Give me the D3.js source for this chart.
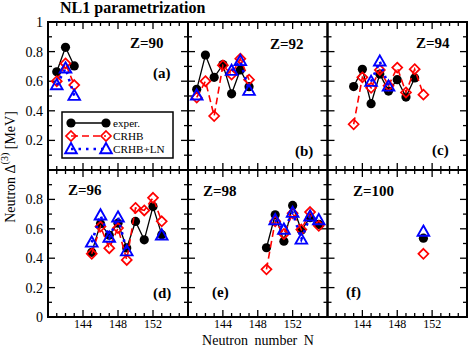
<!DOCTYPE html>
<html><head><meta charset="utf-8">
<script src="https://cdn.jsdelivr.net/npm/d3@7"></script>
<style>body{margin:0;background:#fff}svg{display:block}text{font-family:"Liberation Serif","Times New Roman",serif}</style>
</head><body>
<script>
const panelNames = ["Z=90","Z=92","Z=94","Z=96","Z=98","Z=100"];
const panelTags = ["(a)","(b)","(c)","(d)","(e)","(f)"];
const neutrons = [
  [141,142,143],
  [141,142,143,144,145,146,147],
  [143,144,145,146,147,148,149,150,151],
  [145,146,147,148,149,150,151,152,153],
  [149,150,151,152,153,154,155],
  [151]
];
const exper = [
  [0.664,0.829,0.703],
  [0.545,0.777,0.626,0.712,0.515,0.676,0.563],
  [0.564,0.680,0.448,0.648,0.533,0.610,0.493,0.622,null],
  [0.440,0.635,0.556,0.638,0.470,0.650,0.525,0.751,0.560],
  [0.471,0.695,0.516,0.759,0.590,0.676,0.630],
  [0.536]
];
const crhb = [
  [0.600,0.720,0.574],
  [0.490,0.600,0.365,0.707,0.645,0.752,0.610],
  [0.309,0.626,0.555,0.676,0.570,0.692,0.524,0.681,0.509],
  [0.430,0.615,0.468,0.605,0.388,0.742,0.725,0.811,0.651],
  [0.324,0.651,0.565,0.706,0.595,0.714,0.620],
  [0.430]
];
const crhbLN = [
  [0.574,0.687,0.502],
  [0.505,null,null,null,0.671,0.737,0.536],
  [null,null,0.597,0.734,0.565,null,null,null,null],
  [0.507,0.692,0.540,0.678,0.448,null,null,null,0.556],
  [null,0.660,0.595,0.710,0.528,0.685,0.660],
  [0.581]
];
const xTickLabels = [144,148,152];
const yTickLabelsTop = [0.2,0.4,0.6,0.8,1];
const yTickLabelsBottom = [0,0.2,0.4,0.6,0.8];
const legendLabels = ["exper.","CRHB","CRHB+LN"];

const W=469,H=347;
const svg=d3.select("body").append("svg").attr("width",W).attr("height",H);
const colX=[48,188,327.5,467], rowY=[22,170,317];

svg.append("text").attr("x",60).attr("y",13).attr("font-size",16).attr("font-weight","bold").text("NL1 parametrization");

const circlePath = "M4.6,0A4.6,4.6 0 1,1 -4.6,0A4.6,4.6 0 1,1 4.6,0Z";
const diamondPath = "M0,-5L5,0L0,5L-5,0Z";
const triPath = "M0,-6L5.8,4.2L-5.8,4.2Z";

const series = [
  {data:exper, color:"#000", dash:null, width:1.3, sym:circlePath, fill:"#000", sw:0},
  {data:crhb, color:"#ff0000", dash:"7,4", width:1.6, sym:diamondPath, fill:"none", sw:1.7},
  {data:crhbLN, color:"#0000ff", dash:"2.5,5", width:2.6, sym:triPath, fill:"none", sw:1.9}
];
const tagPos=[[153,78],[295,156],[432,155],[153,298],[212,297],[346,297]];
const zPos=[[130,48],[270,49],[416,48],[68,195],[203,196],[353,196]];

for(let p=0;p<6;p++){
  const c=p%3, r=Math.floor(p/3);
  const x0=colX[c], x1=colX[c+1], y0=rowY[r], y1=rowY[r+1];
  const x=d3.scaleLinear().domain([140,156]).range([x0,x1]);
  const y=d3.scaleLinear().domain([0,1]).range([y1,y0]);
  const g=svg.append("g");
  const tk=g.append("g").attr("stroke","#000").attr("stroke-width",1.3);
  d3.range(141,156).forEach(n=>{
    const len = (n%4===0)?7:4;
    tk.append("line").attr("x1",x(n)).attr("x2",x(n)).attr("y1",y1).attr("y2",y1-len);
    tk.append("line").attr("x1",x(n)).attr("x2",x(n)).attr("y1",y0).attr("y2",y0+len);
  });
  d3.range(1,10).forEach(i=>{
    const v=i/10, len=(i%2===0)?7:4;
    tk.append("line").attr("x1",x0).attr("x2",x0+len).attr("y1",y(v)).attr("y2",y(v));
    tk.append("line").attr("x1",x1).attr("x2",x1-len).attr("y1",y(v)).attr("y2",y(v));
  });
  g.append("rect").attr("x",x0).attr("y",y0).attr("width",x1-x0).attr("height",y1-y0)
    .attr("fill","none").attr("stroke","#000").attr("stroke-width",2);
  if(c===0){
    const labs = r===0?yTickLabelsTop:yTickLabelsBottom;
    labs.forEach(v=>{
      g.append("text").attr("x",x0-5).attr("y",y(v)+5).attr("text-anchor","end").attr("font-size",14)
        .text(v===0?"0":(v===1?"1":v.toFixed(1)));
    });
  }
  if(r===1){
    xTickLabels.forEach(v=>{
      g.append("text").attr("x",x(v)).attr("y",328).attr("text-anchor","middle").attr("font-size",12).text(v);
    });
  }
  g.append("text").attr("x",zPos[p][0]).attr("y",zPos[p][1]).attr("font-size",15).attr("font-weight","bold").text(panelNames[p]);
  g.append("text").attr("x",tagPos[p][0]).attr("y",tagPos[p][1]).attr("font-size",15).attr("font-weight","bold").text(panelTags[p]);

  series.forEach(s=>{
    const pts=neutrons[p].map((n,i)=>({n, v:s.data[p][i]}));
    const line=d3.line().defined(d=>d.v!=null).x(d=>x(d.n)).y(d=>y(d.v));
    g.append("path").attr("d",line(pts)).attr("fill","none").attr("stroke",s.color)
      .attr("stroke-width",s.width).attr("stroke-dasharray",s.dash);
    pts.filter(d=>d.v!=null).forEach(d=>{
      g.append("path").attr("d",s.sym).attr("transform",`translate(${x(d.n)},${y(d.v)})`)
        .attr("fill",s.fill).attr("stroke",s.sw?s.color:"none").attr("stroke-width",s.sw);
    });
  });
}

const lg=svg.append("g");
lg.append("rect").attr("x",62).attr("y",112).attr("width",111).attr("height",46).attr("fill","#fff").attr("stroke","#000").attr("stroke-width",1.5);
series.forEach((s,i)=>{
  const yy=123+i*13;
  lg.append("line").attr("x1",71).attr("x2",106).attr("y1",yy).attr("y2",yy).attr("stroke",s.color)
    .attr("stroke-width",s.width).attr("stroke-dasharray",s.dash);
  [71,106].forEach(xx=>lg.append("path").attr("d",s.sym).attr("transform",`translate(${xx},${yy})`)
    .attr("fill",s.fill).attr("stroke",s.sw?s.color:"none").attr("stroke-width",s.sw));
  lg.append("text").attr("x",113).attr("y",yy+4).attr("font-size",11.2).text(legendLabels[i]);
});

svg.append("text").attr("x",258).attr("y",345).attr("text-anchor","middle").attr("font-size",14)
  .attr("style","word-spacing:3px").text("Neutron number N");
const yt=svg.append("text").attr("transform","translate(15,167) rotate(-90)").attr("text-anchor","middle").attr("font-size",14);
yt.append("tspan").text("Neutron  Δ");
yt.append("tspan").attr("dy",-7).attr("font-size",10).text("(3)");
yt.append("tspan").attr("dy",7).text("  [MeV]");
</script>
</body></html>
